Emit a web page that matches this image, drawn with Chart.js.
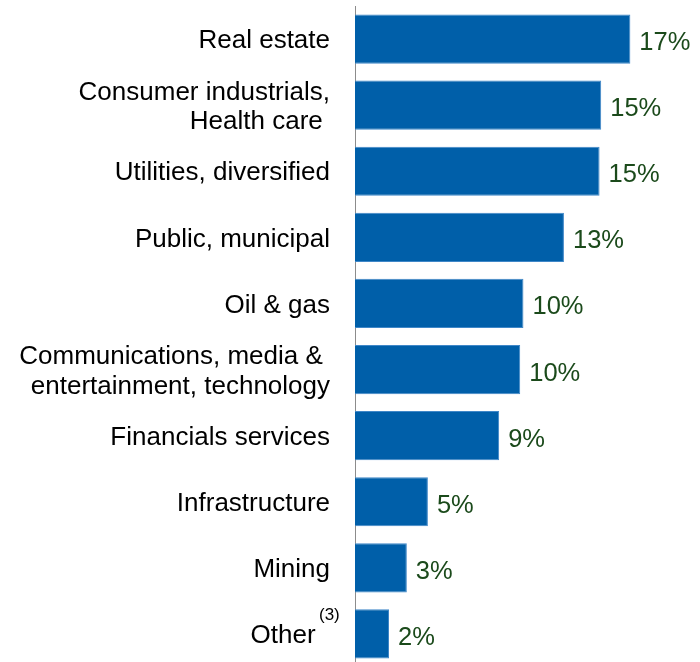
<!DOCTYPE html>
<html>
<head>
<meta charset="utf-8">
<script src="https://cdn.jsdelivr.net/npm/chart.js@4"></script>
<style>
  html, body { margin: 0; padding: 0; background: #fff; overflow: hidden; }
  #wrap { width: 700px; height: 668px; }
</style>
</head>
<body>
<div id="wrap"><canvas id="myChart" width="700" height="668"></canvas></div>
<script>
// datos del gráfico
const categorias = [
    'Real estate',
    ['Consumer industrials,', 'Health care '],
    'Utilities, diversified',
    'Public, municipal',
    'Oil & gas',
    ['Communications, media & ', 'entertainment, technology'],
    'Financials services',
    'Infrastructure',
    'Mining',
    'Other  '
];
const valores = [17.0, 15.2, 15.1, 12.9, 10.4, 10.2, 8.9, 4.5, 3.2, 2.1];
const etiquetas = ['17%', '15%', '15%', '13%', '10%', '10%', '9%', '5%', '3%', '2%'];
const notaOther = '(3)';

const fuente = "'Liberation Sans', Arial, sans-serif";

// etiquetas de porcentaje al final de cada barra
const etiquetasPlugin = {
    id: 'etiquetasBarras',
    afterDatasetsDraw(chart) {
        const c = chart.ctx;
        const meta = chart.getDatasetMeta(0);
        c.save();
        c.font = '25.5px ' + fuente;
        c.fillStyle = '#1b4a1b';
        c.textAlign = 'left';
        c.textBaseline = 'middle';
        meta.data.forEach((bar, i) => {
            c.fillText(etiquetas[i], bar.x + 9, bar.y + 4);
        });
        // superíndice de "Other"
        const y = chart.scales.y.getPixelForValue(categorias.length - 1);
        c.font = '17px ' + fuente;
        c.fillStyle = '#000';
        c.fillText(notaOther, 319, y - 19);
        c.restore();
    }
};

const ctx = document.getElementById('myChart').getContext('2d');
const myChart = new Chart(ctx, {
    type: 'bar',
    data: {
        labels: categorias,
        datasets: [{
            data: valores,
            backgroundColor: '#005fa9',
            borderColor: '#3f87c8',
            borderWidth: 1,
            categoryPercentage: 1,
            barPercentage: 0.745
        }]
    },
    options: {
        indexAxis: 'y',
        responsive: false,
        animation: false,
        layout: { padding: { top: 6, bottom: 1, left: 0, right: 0 } },
        scales: {
            x: {
                display: false,
                min: 0,
                max: 21.3
            },
            y: {
                afterFit: (scale) => {
                    scale.width = 355;
                    scale.paddingTop = 0;
                    scale.paddingBottom = 0;
                },
                grid: { display: false, drawTicks: false },
                border: { display: true, color: '#8c8c8c', width: 1 },
                ticks: {
                    color: '#000',
                    padding: 25,
                    labelOffset: 2,
                    font: { size: 26, family: fuente, lineHeight: 1.14 }
                }
            }
        },
        plugins: {
            legend: { display: false },
            tooltip: { enabled: false }
        }
    },
    plugins: [etiquetasPlugin]
});
</script>
</body>
</html>
